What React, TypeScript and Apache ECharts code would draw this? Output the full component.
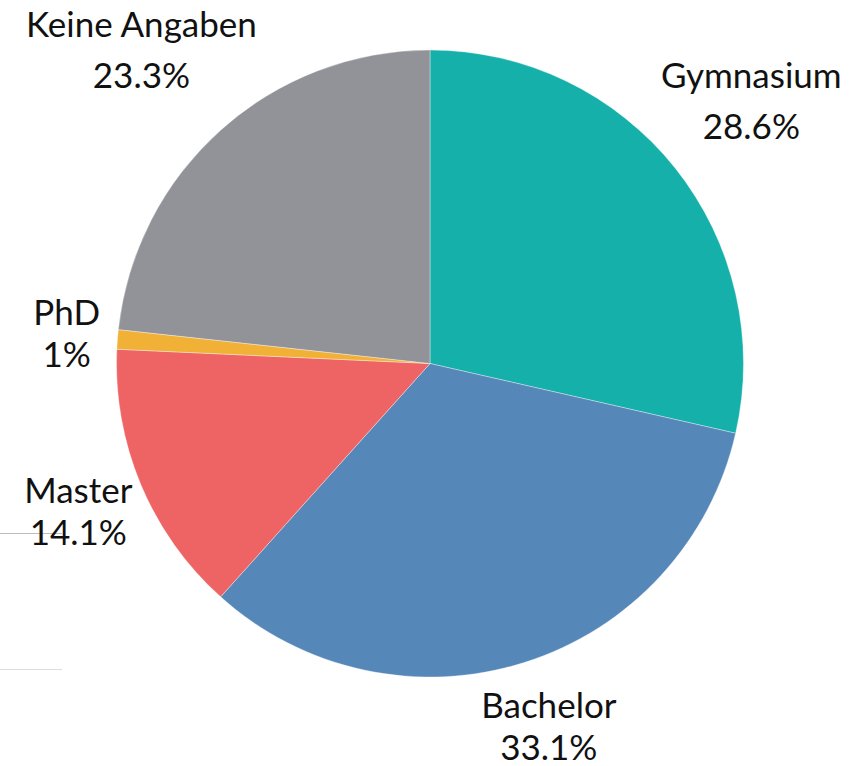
import React, { useEffect, useRef } from "react";
import * as echarts from "echarts";

const categories = ["Gymnasium", "Bachelor", "Master", "PhD", "Keine Angaben"];
const values = [28.6, 33.1, 14.1, 1, 23.3];
const valueLabels = ["28.6%", "33.1%", "14.1%", "1%", "23.3%"];
const colors = ["#15b0aa", "#5587b9", "#ee6363", "#f0b136", "#929398"];
const lineHeights = [51, 42, 42, 42, 51];

const CX = 430;
const CY = 363.5;
const R = 313.5;
const LABEL_R = 337;

export default function App() {
  const ref = useRef<HTMLDivElement>(null);
  useEffect(() => {
    if (!ref.current) return;
    const chart = echarts.init(ref.current, null, { renderer: "svg" });
    const total = values.reduce((a, b) => a + b, 0);
    const mids: number[] = [];
    let acc = 0;
    values.forEach((v) => {
      mids.push(((acc + v / 2) / total) * Math.PI * 2);
      acc += v;
    });
    chart.setOption({
      animation: false,
      backgroundColor: "#ffffff",
      graphic: [
        { type: "line", shape: { x1: 0, y1: 533.5, x2: 62, y2: 533.5 }, style: { stroke: "#bdbdbd", lineWidth: 1 }, z: 0 },
        { type: "line", shape: { x1: 0, y1: 669.5, x2: 62, y2: 669.5 }, style: { stroke: "#dddddd", lineWidth: 1 }, z: 0 },
      ],
      series: [
        {
          type: "pie",
          center: [CX, CY],
          radius: R,
          startAngle: 90,
          clockwise: true,
          avoidLabelOverlap: false,
          itemStyle: { borderColor: "rgba(255,255,255,0.6)", borderWidth: 0.6 },
          label: {
            show: true,
            position: "outside",
            fontFamily: "Lato",
            fontSize: 35,
            color: "#111111",
            align: "center",
          },
          labelLine: { show: false },
          labelLayout: (params: any) => {
            const i = params.dataIndex;
            const a = mids[i];
            const dx = Math.sin(a);
            const dy = -Math.cos(a);
            const w = params.labelRect.width;
            const h = params.labelRect.height;
            const ky = dy < 0 ? 0.84 : 0.5;
            return {
              x: CX + dx * LABEL_R + dx * w * 0.41,
              y: CY + dy * LABEL_R + dy * h * ky,
              align: "center",
              verticalAlign: "middle",
            };
          },
          data: categories.map((c, i) => ({
            name: c,
            value: values[i],
            itemStyle: { color: colors[i] },
            label: {
              formatter: c + "\n" + valueLabels[i],
              lineHeight: lineHeights[i],
            },
          })),
        },
      ],
    });
    return () => chart.dispose();
  }, []);
  return (
    <div
      ref={ref}
      style={{ position: "fixed", left: 0, top: 0, width: 854, height: 766 }}
    />
  );
}
